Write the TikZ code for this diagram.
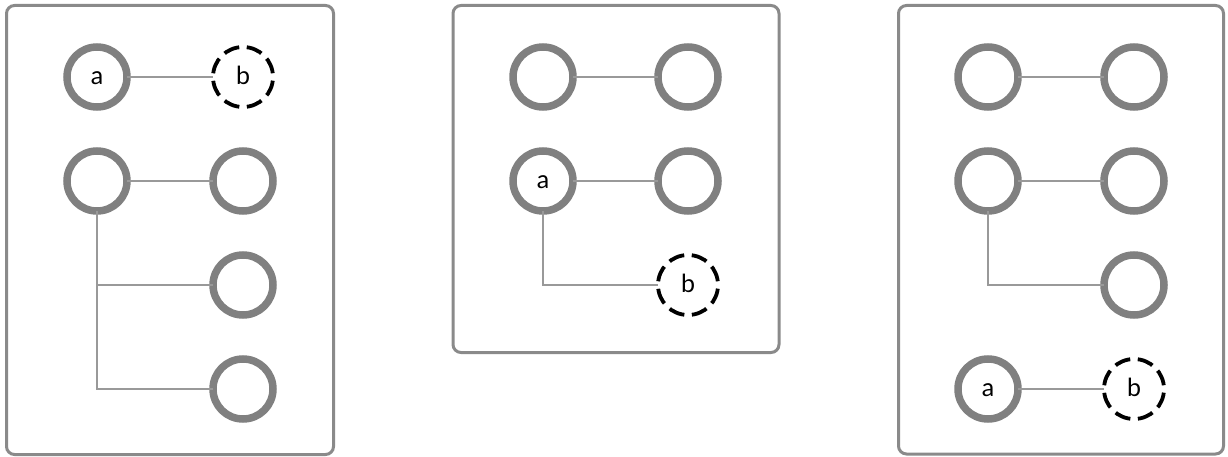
\documentclass[tikz,border=0pt]{standalone}
\usepackage{fontspec}
\setmainfont{Lato}
\definecolor{ringgray}{HTML}{808080}
\definecolor{linegray}{HTML}{999999}
\definecolor{boxgray}{HTML}{8A8A8A}
\begin{document}
\begin{tikzpicture}[x=1pt,y=-1pt,
  panel/.style={draw=boxgray,line width=3pt,rounded corners=8pt},
  ring/.style={circle,draw=ringgray,line width=7.5pt,minimum size=60pt,inner sep=0pt,outer sep=0pt,
    font=\fontsize{25}{25}\selectfont,text height=15pt,text depth=0pt},
  ghost/.style={circle,draw=black,line width=3.8pt,minimum size=60pt,inner sep=0pt,outer sep=0pt,
    dash pattern=on 16pt off 7.56pt,dash phase=19.8pt,
    font=\fontsize{25}{25}\selectfont,text height=15pt,text depth=0pt},
  link/.style={draw=linegray,line width=2pt}]
\useasboundingbox (0,0) rectangle (1228,457);
% panels
\draw[panel] (6.5,5.5) rectangle (333.5,454.5);
\draw[panel] (453,5.5) rectangle (779,352.5);
\draw[panel] (898.5,5.5) rectangle (1223.5,454);
% panel 1
\node[ring]  (p1a) at (97,77) {a};
\node[ghost] (p1b) at (243,77) {b};
\node[ring]  (p1c) at (97,181) {};
\node[ring]  (p1d) at (243,181) {};
\node[ring]  (p1e) at (243,285) {};
\node[ring]  (p1f) at (243,389) {};
\draw[link] (p1a.east) -- (p1b.west);
\draw[link] (p1c.east) -- (p1d.west);
\draw[link] (p1c.south) |- (p1e.west);
\draw[link] (p1c.south) |- (p1f.west);
% panel 2
\node[ring]  (p2a) at (543,77) {};
\node[ring]  (p2b) at (688,77) {};
\node[ring]  (p2c) at (543,181) {a};
\node[ring]  (p2d) at (688,181) {};
\node[ghost] (p2e) at (688,285) {b};
\draw[link] (p2a.east) -- (p2b.west);
\draw[link] (p2c.east) -- (p2d.west);
\draw[link] (p2c.south) |- (p2e.west);
% panel 3
\node[ring]  (p3a) at (988,77) {};
\node[ring]  (p3b) at (1134,77) {};
\node[ring]  (p3c) at (988,181) {};
\node[ring]  (p3d) at (1134,181) {};
\node[ring]  (p3e) at (1134,285) {};
\node[ring]  (p3f) at (988,389) {a};
\node[ghost] (p3g) at (1134,389) {b};
\draw[link] (p3a.east) -- (p3b.west);
\draw[link] (p3c.east) -- (p3d.west);
\draw[link] (p3c.south) |- (p3e.west);
\draw[link] (p3f.east) -- (p3g.west);
\end{tikzpicture}
\end{document}
